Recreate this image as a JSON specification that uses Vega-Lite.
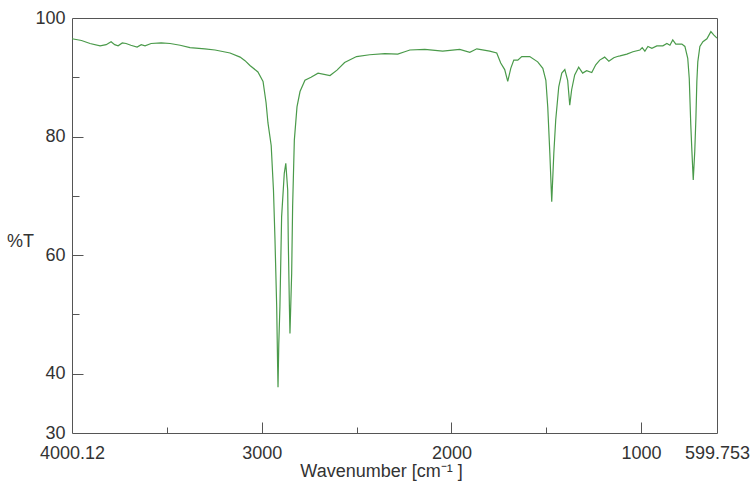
{
  "$schema": "https://vega.github.io/schema/vega-lite/v6.json",
  "width": 645,
  "height": 415,
  "autosize": {"type": "none"},
  "padding": {"left": 72, "top": 18, "right": 38, "bottom": 63},
  "background": "white",
  "config": {
    "view": {"stroke": "#555555", "strokeWidth": 1},
    "axis": {"grid": false, "domain": false, "labelFont": "Liberation Sans", "titleFont": "Liberation Sans", "labelColor": "#333333", "titleColor": "#333333", "tickColor": "#555555", "labelFontSize": 18, "titleFontSize": 18, "titleFontWeight": "normal"}
  },
  "data": {"values": [
    {"w": 4000.12, "t": 96.5}, {"w": 3950, "t": 96.2}, {"w": 3905, "t": 95.7}, {"w": 3852, "t": 95.3}, {"w": 3820, "t": 95.5},
    {"w": 3794, "t": 96.0}, {"w": 3775, "t": 95.5}, {"w": 3757, "t": 95.3}, {"w": 3735, "t": 95.8}, {"w": 3715, "t": 95.7},
    {"w": 3690, "t": 95.4}, {"w": 3657, "t": 95.1}, {"w": 3635, "t": 95.5}, {"w": 3615, "t": 95.3}, {"w": 3583, "t": 95.7},
    {"w": 3530, "t": 95.8}, {"w": 3483, "t": 95.7}, {"w": 3430, "t": 95.4}, {"w": 3378, "t": 95.0}, {"w": 3300, "t": 94.8},
    {"w": 3246, "t": 94.6}, {"w": 3167, "t": 94.1}, {"w": 3114, "t": 93.4}, {"w": 3088, "t": 92.8}, {"w": 3062, "t": 92.0},
    {"w": 3020, "t": 90.9}, {"w": 2993, "t": 89.3}, {"w": 2977, "t": 85.7}, {"w": 2967, "t": 82.3}, {"w": 2950, "t": 78.5},
    {"w": 2938, "t": 71.0}, {"w": 2930, "t": 62.6}, {"w": 2921, "t": 51.3}, {"w": 2916, "t": 41.2}, {"w": 2914, "t": 37.7}, {"w": 2910, "t": 45.0},
    {"w": 2904, "t": 51.3}, {"w": 2895, "t": 66.5}, {"w": 2881, "t": 73.8}, {"w": 2873, "t": 75.5}, {"w": 2863, "t": 71.0},
    {"w": 2860, "t": 62.6}, {"w": 2854, "t": 51.3}, {"w": 2851, "t": 46.8}, {"w": 2842, "t": 57.0}, {"w": 2837, "t": 68.2},
    {"w": 2828, "t": 79.4}, {"w": 2814, "t": 85.0}, {"w": 2798, "t": 87.6}, {"w": 2772, "t": 89.5}, {"w": 2740, "t": 90.0},
    {"w": 2703, "t": 90.7}, {"w": 2640, "t": 90.3}, {"w": 2603, "t": 91.2}, {"w": 2563, "t": 92.5}, {"w": 2500, "t": 93.5},
    {"w": 2431, "t": 93.8}, {"w": 2351, "t": 94.0}, {"w": 2283, "t": 93.9}, {"w": 2246, "t": 94.3}, {"w": 2219, "t": 94.6},
    {"w": 2140, "t": 94.7}, {"w": 2046, "t": 94.4}, {"w": 1956, "t": 94.7}, {"w": 1903, "t": 94.2}, {"w": 1866, "t": 94.8},
    {"w": 1798, "t": 94.4}, {"w": 1761, "t": 94.1}, {"w": 1740, "t": 92.4}, {"w": 1719, "t": 91.3}, {"w": 1703, "t": 89.3},
    {"w": 1687, "t": 91.5}, {"w": 1671, "t": 92.9}, {"w": 1650, "t": 92.9}, {"w": 1629, "t": 93.5}, {"w": 1587, "t": 93.5},
    {"w": 1545, "t": 92.6}, {"w": 1518, "t": 91.5}, {"w": 1502, "t": 89.5}, {"w": 1492, "t": 85.0}, {"w": 1481, "t": 77.2},
    {"w": 1471, "t": 69.0}, {"w": 1460, "t": 77.2}, {"w": 1450, "t": 82.8}, {"w": 1434, "t": 88.4}, {"w": 1418, "t": 90.7},
    {"w": 1402, "t": 91.3}, {"w": 1387, "t": 89.5}, {"w": 1376, "t": 85.3}, {"w": 1366, "t": 87.9}, {"w": 1350, "t": 90.4},
    {"w": 1329, "t": 91.7}, {"w": 1308, "t": 90.7}, {"w": 1287, "t": 91.1}, {"w": 1260, "t": 90.8}, {"w": 1239, "t": 92.1},
    {"w": 1218, "t": 92.9}, {"w": 1192, "t": 93.4}, {"w": 1170, "t": 92.7}, {"w": 1144, "t": 93.3}, {"w": 1125, "t": 93.5},
    {"w": 1111, "t": 93.6}, {"w": 1075, "t": 93.9}, {"w": 1043, "t": 94.3}, {"w": 1006, "t": 94.6}, {"w": 994, "t": 95.0},
    {"w": 980, "t": 94.4}, {"w": 964, "t": 95.2}, {"w": 943, "t": 94.9}, {"w": 917, "t": 95.3}, {"w": 885, "t": 95.3},
    {"w": 864, "t": 95.7}, {"w": 848, "t": 95.4}, {"w": 833, "t": 96.3}, {"w": 817, "t": 95.6}, {"w": 785, "t": 95.6},
    {"w": 769, "t": 95.2}, {"w": 754, "t": 93.2}, {"w": 746, "t": 89.8}, {"w": 738, "t": 82.0}, {"w": 732, "t": 77.5},
    {"w": 725, "t": 72.7}, {"w": 717, "t": 77.5}, {"w": 711, "t": 83.1}, {"w": 706, "t": 89.3}, {"w": 701, "t": 92.6},
    {"w": 690, "t": 95.2}, {"w": 674, "t": 96.0}, {"w": 653, "t": 96.5}, {"w": 632, "t": 97.7}, {"w": 616, "t": 97.1},
    {"w": 599.753, "t": 96.6}
  ]},
  "resolve": {"axis": {"x": "independent", "y": "independent"}},
  "layer": [
    {
      "mark": {"type": "line", "color": "#4a9a4a", "strokeWidth": 1.2},
      "encoding": {
        "x": {"field": "w", "type": "quantitative",
          "scale": {"domain": [599.753, 4000.12], "reverse": true, "nice": false, "zero": false},
          "axis": {"orient": "bottom", "values": [4000.12, 3000, 2000, 1000, 599.753], "format": ".6~g", "ticks": false, "labelFlush": false, "labelPadding": 11, "labelOverlap": false,
            "title": "Wavenumber [cm⁻¹ ]", "titleX": 309, "titleY": 38, "titleAlign": "center", "titleBaseline": "middle"}},
        "y": {"field": "t", "type": "quantitative",
          "scale": {"domain": [30, 100], "nice": false, "zero": false},
          "axis": {"orient": "left", "values": [30, 40, 60, 80, 100], "ticks": false, "labelFlush": false, "labelPadding": 7, "labelOverlap": false,
            "title": "%T", "titleAngle": 0, "titleX": -52, "titleY": 223, "titleAlign": "center", "titleBaseline": "middle"}}
      }
    },
    {
      "mark": {"type": "line", "strokeOpacity": 0},
      "encoding": {
        "x": {"field": "w", "type": "quantitative",
          "scale": {"domain": [599.753, 4000.12], "reverse": true, "nice": false, "zero": false},
          "axis": {"orient": "bottom", "values": [3000, 2000, 1000], "labels": false, "tickSize": -11, "title": null}},
        "y": {"field": "t", "type": "quantitative",
          "scale": {"domain": [30, 100], "nice": false, "zero": false},
          "axis": {"orient": "left", "values": [40, 60, 80], "labels": false, "tickSize": -11, "title": null}}
      }
    },
    {
      "mark": {"type": "line", "strokeOpacity": 0},
      "encoding": {
        "x": {"field": "w", "type": "quantitative",
          "scale": {"domain": [599.753, 4000.12], "reverse": true, "nice": false, "zero": false},
          "axis": {"orient": "bottom", "values": [3500, 2500, 1500], "labels": false, "tickSize": -6, "title": null}},
        "y": {"field": "t", "type": "quantitative",
          "scale": {"domain": [30, 100], "nice": false, "zero": false},
          "axis": {"orient": "left", "values": [90, 70, 50], "labels": false, "tickSize": -7, "title": null}}
      }
    }
  ]
}
